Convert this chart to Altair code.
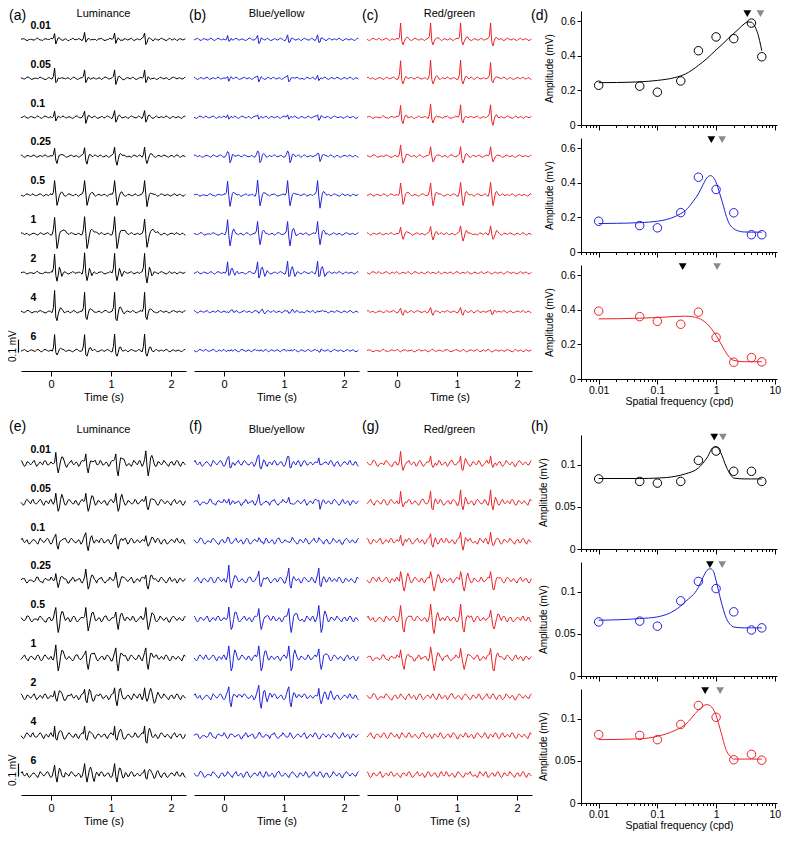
import altair as alt
import pandas as pd

FONT = "Liberation Sans"
BLACK = "#000000"
BLUE = "#1f1fdc"
RED = "#ec2227"
GRAY = "#8a8a8a"

# ------------------------------------------------------------------ traces
SF_LABELS = ["0.01", "0.05", "0.1", "0.25", "0.5", "1", "2", "4", "6"]
T0, DT, NT = -0.5, 0.02, 138          # sampling of the traces (s)
UNITS_PER_MV = 130                     # trace units (13 units = 0.1 mV)
ROW_GAP = 38.9                         # vertical offset between traces (units)
SCALE_BAR_MV = 0.1

# averaged response to one pattern reversal (0.00 .. 0.48 s, 20 ms steps)
LUM_TOP = [
    [0, 0, 2, 7, -4, -2, 1, 1, 0, 0, -1, 0],
    [0, 0, 2, 9, -5, -3, 1, 1, 0, 0, -1, 0],
    [0, 0, 2, 6, -5, -2, 1, 1, 0],
    [0, 0, 2, 9, -4, -8, -3, 1, 2, 1, 0],
    [0, 0, 4, 15, 2, -11, -6, 0, 2, 2, 1, 0],
    [0, 0, 4, 16, 0, -14, -9, -1, 3, 4, 4, 3, 2, 1, 1, 0],
    [0, 0, 5, 20, -2, -9, -3, 5, 2, -3, -1, 1, 0],
    [0, 0, 4, 20, -6, -9, -2, 3, 4, 2, 0, -1, 0],
    [0, 0, 4, 16, -3, -5, -2, 2, 3, 1, 0],
]
BY_TOP = [
    [0, 0, 1, 4, -3, -2, 1, 0],
    [0, 0, 1, 3, -3, -1, 1, 0],
    [0, 0, 1, 3, -2, -1, 1, 0],
    [0, 0, 1, 4, 3, -6, -4, 1, 2, 1, 0],
    [0, 0, 3, 15, 0, -12, -6, 1, 3, 2, 1, 0],
    [0, 0, 3, 13, -2, -12, -5, 3, 5, 2, -1, 0],
    [0, 0, 3, 11, -4, -2, 4, 5, 1, -3, -1, 1, 0],
    [0, 0, 0, 1, -1, 0, 1, 2, 0, -1, 0],
    [0, 0, 0, 1, 0, -1, 1, 0],
]
RG_TOP = [
    [0, 0, 3, 17, -2, -6, -2, 1, 2, 1, 0],
    [0, 0, 3, 17, -2, -5, -2, 1, 2, 1, 0],
    [0, 0, 3, 13, -3, -7, -2, 1, 2, 0],
    [0, 0, 2, 10, -1, -7, -4, 0, 2, 1, 0],
    [0, 0, 3, 12, 0, -10, -6, 1, 3, 2, 1, 0],
    [0, 0, 2, 8, -1, -6, -3, 1, 3, 1, 0],
    [0],
    [0, 0, 1, 3, -2, -3, 0, 1, 0],
    [0],
]
LUM_BOT = [
    [0, 0, 1, 4, 11, -4, -11, -4, 4, 5, 3, 1, 0, -1, 0],
    [0, 0, 1, 3, 9, -3, -9, -4, 3, 5, 3, 1, 0],
    [0, 0, 1, 3, 7, -3, -8, -3, 2, 4, 2, 1, 0],
    [0, 0, 1, 3, 8, -3, -9, -4, 3, 5, 3, 1, 0],
    [0, 0, 1, 4, 10, -4, -12, -5, 3, 6, 4, 2, 0],
    [0, 0, 1, 4, 10, -4, -13, -6, 3, 6, 4, 2, 1, 0],
    [0, 0, 2, 9, -2, -6, 0, 6, 7, 2, -3, -5, -2, 2, 3, 1, 0],
    [0, 0, 2, 11, -3, -6, 1, 6, 5, 1, -2, -2, 0, 1, 0],
    [0, 0, 2, 8, -2, -6, 0, 5, 6, 2, -2, -4, -1, 1, 1, 0],
]
BY_BOT = [
    [0, 0, 1, 4, 7, -3, -4, -1, 2, 1, 0],
    [0, 0, 1, 3, 5, -4, -3, 0, 1, 0],
    [0, 0, 0, 1, 2, -1, -1, 1, 0],
    [0, 0, 1, 4, 12, -4, -8, -3, 2, 3, 1, 0],
    [0, 0, 1, 5, 12, -2, -12, -8, 1, 5, 4, 2, 0],
    [0, 0, 1, 5, 12, -3, -13, -8, 2, 5, 4, 2, 1, 0],
    [0, 0, 1, 4, 10, -4, -10, -3, 4, 5, 1, -2, -1, 2, 3, 1, 0],
    [0],
    [0],
]
RG_BOT = [
    [0, 0, 2, 9, -3, -7, -2, 2, 1, 0],
    [0, 0, 2, 11, -3, -6, -2, 2, 1, 0],
    [0, 0, 2, 9, -2, -6, -2, 2, 1, 0],
    [0, 0, 2, 10, 3, -8, -11, -4, 2, 4, 2, 1, 0],
    [0, 0, 2, 12, 2, -9, -13, -5, 2, 5, 3, 1, 0],
    [0, 0, 2, 11, 1, -9, -13, -5, 2, 5, 3, 1, 0],
    [0],
    [0],
    [0],
]

# background EEG noise (20 ms steps, 140 samples)
NOISE = [
    [0, 1, 1, 1, -1, -2, -1, 0, 0, 0, -1, -1, 0, 2, 2, 0, -1, -1, -2, 0,
     1, 1, 0, 0, 0, 2, 1, -1, -2, -1, 1, 1, 1, 0, -1, 0, 0, 1, 0, -2,
     -2, 0, 0, 2, 1, -1, 0, 0, 1, 1, -1, -2, -1, 0, 2, 2, 0, -1, -1, 0,
     1, 0, 0, -2, 0, 1, 1, 2, 0, -1, -2, -1, 0, 0, 2, 1, 0, -1, -1, 0,
     2, 1, -1, -2, -1, 0, 1, 1, 0, -1, 0, 1, 2, 0, -2, -1, 0, 1, 0, -1,
     1, 2, 1, -1, -2, -2, 0, 1, 1, 0, -1, 0, 1, 0, -1, -1, 1, 2, 1, 0,
     -1, -2, -1, 1, 2, 0, -1, 0, 1, 0, -2, -1, 1, 1, 0, -1, 0, 1, 2, 1],
    [1, 0, -1, -1, 0, 2, 2, 1, -1, -2, -1, 0, 0, 0, -1, 1, 2, 1, 0, -1,
     -2, -2, 0, 1, 1, -1, -1, 0, 2, 1, 0, -1, -2, 0, 1, 2, 0, -1, 0, 1,
     0, -2, -1, 1, 2, 1, -1, -2, -1, 0, 1, 1, 0, -1, 1, 2, 0, -1, -2, 0,
     2, 1, -1, -1, 0, 1, 0, -2, -1, 1, 2, 2, 0, -1, -1, 0, 1, 0, -1, -2,
     0, 1, 2, 1, 0, -1, -2, -1, 1, 1, 0, -1, 0, 2, 1, -1, -2, -1, 0, 1,
     2, 0, -1, -1, 1, 2, 1, -1, -2, 0, 1, 1, -1, -2, -1, 0, 2, 1, 0, -1,
     0, 1, 0, -2, -2, 0, 1, 2, 1, 0, -1, 0, 1, 0, -1, -1, 1, 2, 0, -1],
    [-1, 0, 1, 2, 0, -1, -2, 0, 1, 1, 0, -1, -1, 1, 2, 1, -1, -2, -1, 1,
     2, 1, 0, -1, 0, 1, -1, -2, 0, 2, 1, 0, -1, -1, 1, 2, 1, -1, -1, 0,
     1, 0, -1, -2, -1, 1, 2, 2, 0, -1, -1, 0, 1, 0, -2, -1, 1, 1, 0, -1,
     0, 2, 1, -1, -2, -1, 0, 1, 1, -1, -1, 1, 2, 1, 0, -2, -2, 0, 1, 0,
     -1, 0, 2, 1, -1, -1, 0, 1, 0, -2, -1, 1, 2, 1, 0, -1, -1, 0, 2, 1,
     -1, -2, 0, 1, 0, -1, 1, 2, 1, -1, -2, -1, 1, 2, 0, -1, 0, 1, 0, -1,
     1, 2, 1, -1, -2, -1, 1, 1, 0, -1, 0, 1, 0, -1, -2, 0, 2, 1, -1, 0],
    [2, 1, -1, -2, -1, 1, 1, 0, -1, 0, 1, 2, 0, -2, -1, 0, 1, 0, -1, 1,
     2, 1, -1, -1, 0, 1, 0, -1, -2, 0, 1, 1, 0, -1, 1, 2, 1, -1, -2, -1,
     0, 1, 2, 0, -1, 0, 1, 0, -2, -1, 1, 2, 1, -1, -1, 0, 1, 1, -1, -2,
     -1, 1, 2, 0, -1, 0, 2, 1, -1, -1, 0, 1, 0, -2, -1, 1, 2, 1, 0, -1,
     -2, -1, 1, 1, 0, 1, 2, 0, -1, -1, 0, -1, -2, 0, 2, 1, 0, -1, 1, 2,
     0, -2, -1, 0, 1, 1, -1, -1, 1, 2, 1, -1, -2, -1, 1, 1, 0, -1, 0, 2,
     1, 0, -1, -2, 0, 1, 1, -1, -1, 1, 2, 1, -1, -2, 0, 1, 0, -1, 1, 1],
    [0, -1, -2, -1, 1, 2, 1, 0, -1, 1, 2, 0, -1, -1, 0, 1, 2, 1, -1, -2,
     0, 1, 0, -1, 1, 2, 0, -2, -1, 0, 1, 0, -1, 0, 2, 1, -1, -2, -1, 1,
     2, 1, 0, -1, -1, 1, 1, -1, -2, 0, 1, 2, 0, -1, 0, 1, 0, -1, -1, 1,
     2, 0, -2, -1, 1, 1, 0, -1, 0, 1, 1, -1, -2, 0, 1, 2, 1, -1, -1, 0,
     1, 0, -1, 1, 2, 0, -1, -2, -1, 1, 1, 0, -1, -1, 0, 2, 1, -1, -1, 0,
     1, 2, 0, -1, -2, -1, 1, 1, 0, -1, 0, 1, 1, -1, -2, -1, 1, 2, 1, 0,
     -1, 0, 1, 0, -1, -2, 0, 1, 2, 0, -1, 0, 1, 1, -1, -2, -1, 1, 1, 0],
    [1, 2, 0, -1, 0, 1, -1, -2, -1, 0, 1, 1, 0, -1, -2, 0, 2, 1, 0, -1,
     0, 1, 2, 1, -1, -2, -1, 1, 1, 0, -1, 0, 1, -1, -2, 0, 1, 2, 0, -1,
     -1, 1, 2, 1, 0, -1, -1, 0, 1, 0, -2, -1, 1, 2, 1, -1, -1, 0, 1, 1,
     -1, -2, 0, 1, 0, -1, 1, 2, 1, -1, -1, 0, 1, 1, -1, -2, -1, 1, 2, 0,
     -1, 0, 1, 0, -1, -1, 1, 2, 0, -2, -1, 1, 2, 1, -1, -1, 0, 1, 0, -1,
     0, 1, 0, -2, -1, 1, 2, 0, -1, 0, 1, 0, -1, 1, 2, 1, -1, -2, 0, 1,
     1, -1, -2, -1, 0, 1, 1, 0, -1, 1, 2, 0, -1, -1, 1, 1, -1, -2, -1, 1],
]
NOISE_GAIN = [0.6, 1.5]   # top / bottom recordings

# ------------------------------------------------------------------ tuning curves
SF = [0.01, 0.05, 0.1, 0.25, 0.5, 1, 2, 4, 6]
AMP = {
    "d1": [0.23, 0.225, 0.19, 0.255, 0.43, 0.51, 0.50, 0.59, 0.395],
    "d2": [0.178, 0.153, 0.14, 0.228, 0.433, 0.362, 0.227, 0.10, 0.10],
    "d3": [0.393, 0.361, 0.334, 0.317, 0.387, 0.241, 0.097, 0.124, 0.099],
    "h1": [0.083, 0.080, 0.078, 0.080, 0.105, 0.116, 0.092, 0.092, 0.080],
    "h2": [0.064, 0.065, 0.059, 0.089, 0.112, 0.1035, 0.076, 0.0545, 0.057],
    "h3": [0.081, 0.080, 0.075, 0.093, 0.1155, 0.1015, 0.0512, 0.0577, 0.0507],
}
FIT_X = {
    "d1": [0.01, 0.02, 0.05, 0.1, 0.2, 0.3, 0.5, 0.7, 1, 1.3, 1.6, 2, 2.5, 3, 3.5, 4, 4.5, 5, 5.5, 6],
    "d2": [0.01, 0.02, 0.05, 0.1, 0.2, 0.25, 0.3, 0.4, 0.5, 0.6, 0.7, 0.8, 0.9, 1, 1.15, 1.3, 1.5, 1.7, 2, 2.5, 3, 4, 6],
    "d3": [0.01, 0.05, 0.1, 0.2, 0.3, 0.4, 0.5, 0.7, 1, 1.3, 1.6, 2, 3, 4, 6],
    "h1": [0.01, 0.05, 0.1, 0.2, 0.3, 0.5, 0.7, 0.9, 1, 1.2, 1.5, 1.8, 2, 3, 4, 6],
    "h2": [0.01, 0.05, 0.1, 0.2, 0.25, 0.3, 0.5, 0.6, 0.7, 0.8, 0.9, 1, 1.2, 1.5, 1.8, 2, 3, 4, 6],
    "h3": [0.01, 0.05, 0.1, 0.2, 0.3, 0.5, 0.6, 0.7, 0.8, 1, 1.2, 1.5, 1.8, 2, 3, 4, 6],
}
FIT_Y = {
    "d1": [0.245, 0.246, 0.25, 0.258, 0.275, 0.295, 0.345, 0.385, 0.435, 0.47, 0.50, 0.53, 0.56,
           0.585, 0.597, 0.595, 0.575, 0.54, 0.49, 0.43],
    "d2": [0.165, 0.166, 0.17, 0.178, 0.205, 0.222, 0.24, 0.29, 0.337, 0.39, 0.43, 0.442, 0.432,
           0.404, 0.34, 0.28, 0.205, 0.16, 0.135, 0.12, 0.116, 0.115, 0.115],
    "d3": [0.348, 0.352, 0.356, 0.362, 0.364, 0.36, 0.352, 0.32, 0.252, 0.185, 0.135, 0.108,
           0.1, 0.1, 0.1],
    "h1": [0.0835, 0.0835, 0.084, 0.086, 0.089, 0.096, 0.108, 0.1205, 0.121, 0.114, 0.097,
           0.087, 0.084, 0.083, 0.083, 0.083],
    "h2": [0.066, 0.068, 0.07, 0.078, 0.083, 0.088, 0.105, 0.117, 0.125, 0.127, 0.124, 0.113,
           0.09, 0.068, 0.06, 0.058, 0.057, 0.057, 0.057],
    "h3": [0.075, 0.076, 0.079, 0.086, 0.093, 0.11, 0.115, 0.1165, 0.115, 0.104, 0.085, 0.062,
           0.054, 0.052, 0.052, 0.052, 0.052],
}
# peak markers: black = fitted peak, gray = second estimate
TRI_X = {
    "d1": [3.4, 5.7], "d2": [0.83, 1.27], "d3": [0.27, 1.04],
    "h1": [0.93, 1.31], "h2": [0.785, 1.27], "h3": [0.65, 1.17],
}
TRI_LEVEL = {"d1": 0.645, "d2": 0.65, "d3": 0.65, "h1": 0.1325, "h2": 0.132, "h3": 0.133}

XTICKS = [0.005, 0.006, 0.007, 0.008, 0.009,
          0.01, 0.02, 0.03, 0.04, 0.05, 0.06, 0.07, 0.08, 0.09,
          0.1, 0.2, 0.3, 0.4, 0.5, 0.6, 0.7, 0.8, 0.9,
          1, 2, 3, 4, 5, 6, 7, 8, 9, 10]
MAJOR_TEST = "indexof([0.01, 0.1, 1, 10], datum.value) >= 0"

# ------------------------------------------------------------------ layout constants
PANEL_W = 165
PIECE_TOP = [28.4, -98.6, -225.6]     # y value at top edge of each piece
PIECE_H = [114, 114, 106]
AMP_W, AMP_H = 196, 114
LABEL_OFFSET = 13.7


def trace_values(cycle, noise, gain):
    cyc = list(cycle) + [0] * (25 - len(cycle))
    out = []
    for i in range(NT):
        v = gain * noise[i]
        k = i - 25
        if 0 <= k < 100:
            v += cyc[k % 25]
        out.append(v)
    return out


TIME = [round(T0 + DT * i, 2) for i in range(NT)]


def trace_piece(cycles, color, col, half, piece, title, letter, first_col):
    recs = []
    for r in range(3 * piece, 3 * piece + 3):
        nz = NOISE[(r + 2 * col + 3 * half) % 6]
        vals = trace_values(cycles[r], nz, NOISE_GAIN[half])
        for t, v in zip(TIME, vals):
            recs.append({"t": t, "v": -ROW_GAP * r + v, "row": r})
    df = pd.DataFrame(recs)
    top, H = PIECE_TOP[piece], PIECE_H[piece]
    xs = alt.Scale(domain=[-0.5, 2.25], nice=False, zero=False)
    ys = alt.Scale(domain=[top - H, top], nice=False, zero=False)
    if piece == 2:
        xaxis = alt.Axis(values=[0, 1, 2], format="d", title="Time (s)", tickSize=5,
                         labelFontSize=11, titleFontSize=11, labelPadding=2,
                         titlePadding=2, grid=False, domainWidth=1.2)
    else:
        xaxis = None
    Y = alt.Y("v:Q", scale=ys, axis=None)
    layers = [
        alt.Chart(df).mark_line(color=color, strokeWidth=1).encode(
            x=alt.X("t:Q", scale=xs, axis=xaxis), y=Y, detail="row:N")
    ]
    if piece == 0:
        ty = 3 if half == 0 else -5
        ly = -2 if half == 0 else -15
        lx = {0: -12, 1: -5, 2: -5}[col]
        layers.append(alt.Chart(pd.DataFrame({"s": [title]})).mark_text(
            fontSize=11, align="center", baseline="middle").encode(
            x=alt.value(PANEL_W / 2), y=alt.value(ty), text="s:N"))
        layers.append(alt.Chart(pd.DataFrame({"s": [letter]})).mark_text(
            fontSize=14, align="left", baseline="top").encode(
            x=alt.value(lx), y=alt.value(ly), text="s:N"))
    if first_col:
        rows = list(range(3 * piece, 3 * piece + 3))
        lab = pd.DataFrame({"s": [SF_LABELS[r] for r in rows],
                            "v": [-ROW_GAP * r + LABEL_OFFSET for r in rows]})
        layers.append(alt.Chart(lab).mark_text(
            fontSize=10.5, fontWeight="bold", align="left", baseline="middle").encode(
            x=alt.value(9.5), y=Y, text="s:N"))
        if piece == 2:
            base = -ROW_GAP * 8 - 2
            bar = pd.DataFrame({"v": [base], "v2": [base + SCALE_BAR_MV * UNITS_PER_MV],
                                "vm": [base + SCALE_BAR_MV * UNITS_PER_MV / 2],
                                "s": ["0.1 mV"]})
            layers.append(alt.Chart(bar).mark_rule(color=BLACK, strokeWidth=1.2).encode(
                x=alt.value(-2.5), y=Y, y2="v2:Q"))
            layers.append(alt.Chart(bar).mark_text(
                fontSize=10, angle=270, align="center", baseline="middle").encode(
                x=alt.value(-8), y=alt.Y("vm:Q", scale=ys, axis=None), text="s:N"))
    return alt.layer(*layers).properties(width=PANEL_W, height=H)


def amp_plot(key, color, ymax, yvals, bottom, letter=None, letter_y=-2):
    pts = pd.DataFrame({"sf": SF, "amp": AMP[key]})
    fit = pd.DataFrame({"sf": FIT_X[key], "amp": FIT_Y[key]})
    tri = pd.DataFrame({"sf": TRI_X[key], "amp": [TRI_LEVEL[key]] * 2,
                        "kind": ["black", "gray"]})
    xs = alt.Scale(type="log", domain=[0.005, 10.9], nice=False)
    ys = alt.Scale(domain=[0, ymax], nice=False, zero=False)
    xkw = dict(values=XTICKS, grid=False,
               tickSize={"condition": {"test": MAJOR_TEST, "value": 5}, "value": 2.5},
               labelOverlap=False, labelFlush=False)
    if bottom:
        xkw.update(labelExpr=MAJOR_TEST + " ? datum.label : ''", format="~g",
                   title="Spatial frequency (cpd)", labelFontSize=10.5,
                   titleFontSize=10.5, labelPadding=1, titlePadding=1)
    else:
        xkw.update(labels=False, title="")
    X = alt.X("sf:Q", scale=xs, axis=alt.Axis(**xkw))
    Y = alt.Y("amp:Q", scale=ys, axis=alt.Axis(
        values=yvals, format="~g", title="Amplitude (mV)", tickSize=4,
        labelFontSize=10.5, titleFontSize=10, titlePadding=6, grid=False))
    layers = [
        alt.Chart(fit).mark_line(color=color, strokeWidth=1, interpolate="monotone").encode(x=X, y=Y),
        alt.Chart(pts).mark_point(shape="circle", filled=False, color=color, size=72,
                                  strokeWidth=1, opacity=1).encode(x=X, y=Y),
        alt.Chart(tri).mark_point(shape="triangle-down", filled=True, size=60, opacity=1).encode(
            x=X, y=Y, color=alt.Color("kind:N", scale=alt.Scale(domain=["black", "gray"],
                                                                range=[BLACK, GRAY]), legend=None)),
    ]
    if letter:
        layers.append(alt.Chart(pd.DataFrame({"s": [letter]})).mark_text(
            fontSize=14, align="left", baseline="top").encode(
            x=alt.value(-50), y=alt.value(letter_y), text="s:N"))
    return alt.layer(*layers).properties(width=AMP_W, height=AMP_H)


def spacer(w, h):
    return alt.Chart(pd.DataFrame({"z": [0]})).mark_point(opacity=0).encode(
        x=alt.X("z:Q", axis=None), y=alt.Y("z:Q", axis=None)).properties(width=w, height=h)


cells = []
halves = [
    (LUM_TOP, BY_TOP, RG_TOP, ["(a)", "(b)", "(c)"], ["d1", "d2", "d3"], 0.66, [0, 0.2, 0.4, 0.6], "(d)"),
    (LUM_BOT, BY_BOT, RG_BOT, ["(e)", "(f)", "(g)"], ["h1", "h2", "h3"], 0.135, [0, 0.05, 0.1], "(h)"),
]
TITLES = ["Luminance", "Blue/yellow", "Red/green"]
COLORS = [BLACK, BLUE, RED]
for half, (lum, by, rg, letters, keys, ymax, yvals, aletter) in enumerate(halves):
    if half == 1:
        cells += [spacer(1, 30)] + [spacer(1, 1) for _ in range(4)]
    for piece in range(3):
        for col, cyc in enumerate([lum, by, rg]):
            cells.append(trace_piece(cyc, COLORS[col], col, half, piece,
                                     TITLES[col], letters[col], col == 0))
        cells.append(spacer(33 if piece == 0 else 1, 1))
        cells.append(amp_plot(keys[piece], COLORS[piece], ymax, yvals, piece == 2,
                              aletter if piece == 0 else None,
                              -2 if half == 0 else -15))

chart = alt.concat(*cells, columns=5, spacing={"row": 13, "column": 8},
                   bounds="flush", align="each").properties(
    padding={"left": 0, "right": 0, "top": 0, "bottom": 0}
).configure(font=FONT).configure_view(stroke=None).configure_axis(
    domainColor=BLACK, tickColor=BLACK, labelColor=BLACK, titleColor=BLACK,
    titleFontWeight="normal", labelFont=FONT, titleFont=FONT
).configure_text(color=BLACK, font=FONT)

chart.save("out.html", embed_options={"renderer": "svg", "actions": False})
